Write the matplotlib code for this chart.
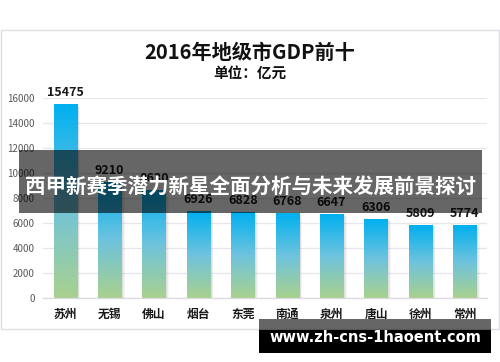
import numpy as np
import matplotlib
matplotlib.use('Agg')
import matplotlib.pyplot as plt
from matplotlib.colors import LinearSegmentedColormap
from matplotlib.patches import Rectangle

plt.rcParams['font.family'] = ['Noto Sans CJK SC', 'DejaVu Sans']

# data
cities = ['苏州', '无锡', '佛山', '烟台', '东莞', '南通', '泉州', '唐山', '徐州', '常州']
gdp = [15475, 9210, 8630, 6926, 6828, 6768, 6647, 6306, 5809, 5774]
y_ticks = [0, 2000, 4000, 6000, 8000, 10000, 12000, 14000, 16000]

title = '2016年地级市GDP前十'
subtitle = '单位：亿元'
banner = '西甲新赛季潜力新星全面分析与未来发展前景探讨'
watermark = 'www.zh-cns-1haoent.com'

W, H = 500, 362
fig = plt.figure(figsize=(W / 100, H / 100), dpi=100)
fig.patch.set_facecolor('white')

# main axes placed in pixel terms
left, right, top, bottom = 43, 487, 98, 298
ax = fig.add_axes([left / W, (H - bottom) / H, (right - left) / W, (bottom - top) / H])
ax.set_facecolor('none')

cmap = LinearSegmentedColormap.from_list('bar', ['#A9D18E', '#6EC3DE', '#00B0F0'])
grad = np.linspace(0, 1, 256).reshape(-1, 1)
bw = 0.52
for i, v in enumerate(gdp):
    # soft shadow on the right
    for k, a in enumerate([0.35, 0.25, 0.15, 0.07]):
        ax.add_patch(Rectangle((i + bw / 2 + k * 0.02, 0), 0.02, v * 0.985,
                               color='#7f7f7f', alpha=a, lw=0, zorder=1.5))
    ax.imshow(grad, extent=[i - bw / 2, i + bw / 2, 0, v], aspect='auto',
              cmap=cmap, origin='lower', zorder=2, interpolation='bilinear')
    ax.text(i, v + 450, f'{v}', ha='center', va='bottom', fontsize=9,
            fontweight='bold', color='#1a1a1a', zorder=3)

ax.set_xlim(-0.5, len(cities) - 0.5)
ax.set_ylim(0, 16000)
ax.set_yticks(y_ticks)
ax.set_yticklabels([str(t) for t in y_ticks], fontsize=7, color='#595959')
ax.set_xticks(range(len(cities)))
ax.set_xticklabels(cities, fontsize=8.5, fontweight='bold', color='#1a1a1a')
ax.tick_params(axis='both', length=0)
ax.tick_params(axis='y', pad=6)
ax.tick_params(axis='x', pad=7)
ax.grid(axis='y', color='#E6E6EC', lw=0.9, zorder=0)
ax.set_axisbelow(True)
for s in ['top', 'left', 'right']:
    ax.spines[s].set_visible(False)
ax.spines['bottom'].set_color('#DADAE0')
ax.spines['bottom'].set_linewidth(0.9)

# overlay in pixel coordinates
ov = fig.add_axes([0, 0, 1, 1], zorder=10)
ov.set_xlim(0, W)
ov.set_ylim(H, 0)
ov.axis('off')
ov.patch.set_alpha(0)

ov.add_patch(Rectangle((1, 30), 498, 299, fill=False, ec='#DCDCE2', lw=1))
ov.text(250, 52, title, ha='center', va='center', fontsize=14.5,
        fontweight='bold', color='#111111')
ov.text(250, 73, subtitle, ha='center', va='center', fontsize=10.5,
        fontweight='bold', color='#111111')

ov.add_patch(Rectangle((19, 150), 463, 63, color='black', alpha=0.6, lw=0))
ov.text(250, 186, banner, ha='center', va='center', fontsize=14.8,
        fontweight='bold', color='white')

ov.add_patch(Rectangle((259, 319), 232, 11, color='black', alpha=0.6, lw=0))
ov.add_patch(Rectangle((259, 330), 232, 23, color='black', lw=0))
ov.text(375, 338, watermark, ha='center', va='center', fontsize=10.5,
        fontweight='bold', color='white', family='DejaVu Sans')

fig.savefig('out.png', dpi=100)
